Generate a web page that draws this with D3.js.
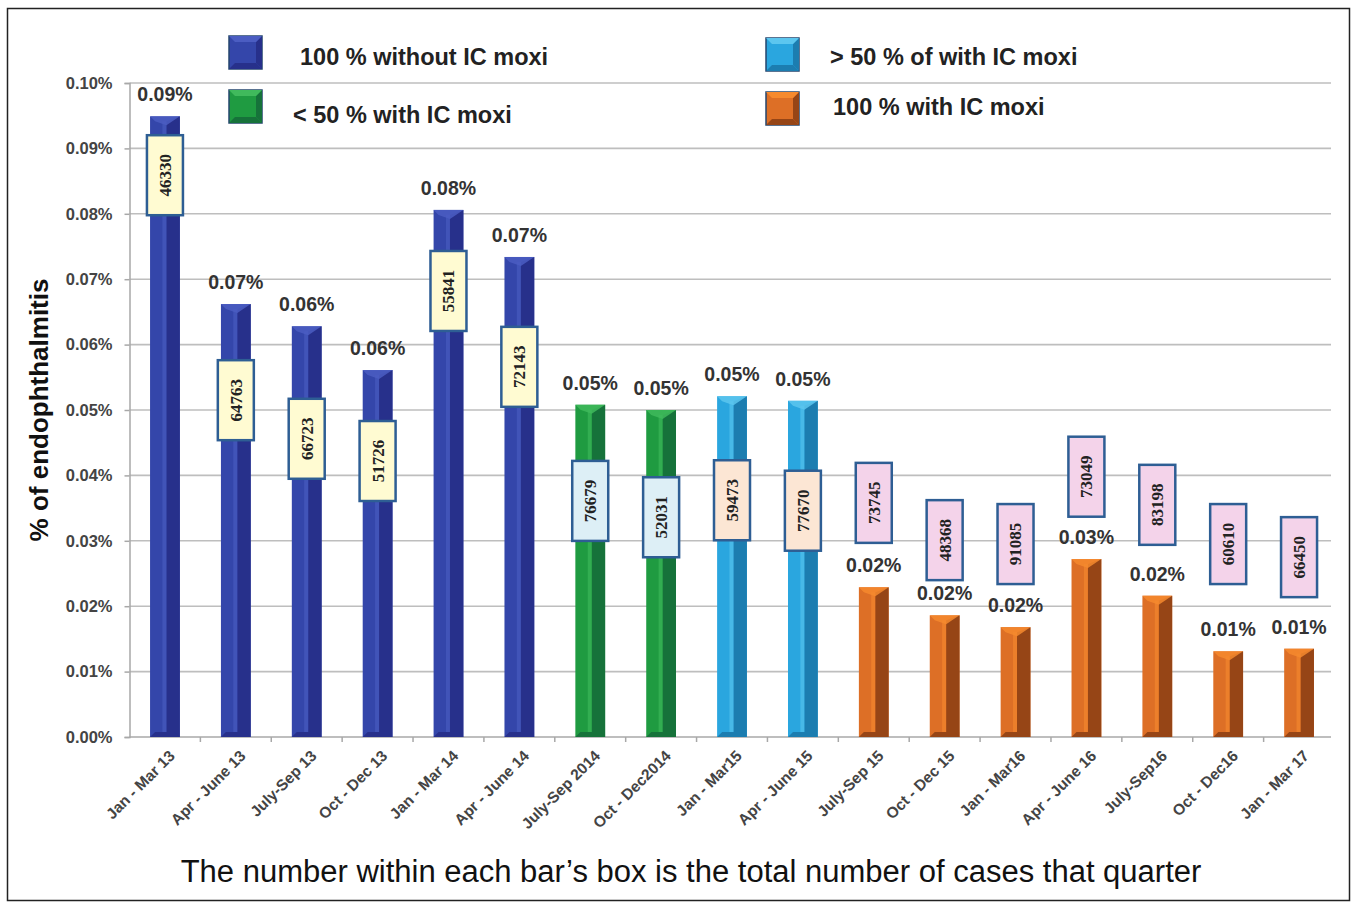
<!DOCTYPE html>
<html><head><meta charset="utf-8">
<script src="https://cdn.jsdelivr.net/npm/d3@7"></script>
<style>body{margin:0;background:#fff}svg{display:block}</style>
</head><body>
<svg id="c" width="1353" height="903"></svg>
<script>
const categories = ["Jan - Mar 13","Apr - June 13","July-Sep 13","Oct - Dec 13","Jan - Mar 14","Apr - June 14","July-Sep 2014","Oct - Dec2014","Jan - Mar15","Apr - June 15","July-Sep 15","Oct - Dec 15","Jan - Mar16","Apr - June 16","July-Sep16","Oct - Dec16","Jan - Mar 17"];
const values = [0.0949,0.0662,0.0628,0.0561,0.0806,0.0734,0.0508,0.0500,0.0521,0.0514,0.0229,0.0186,0.0168,0.0272,0.0216,0.0131,0.0135];
const cases = [46330,64763,66723,51726,55841,72143,76679,52031,59473,77670,73745,48368,91085,73049,83198,60610,66450];
const groups = [0,0,0,0,0,0,1,1,2,2,3,3,3,3,3,3,3];
const groupNames = ["100 % without IC moxi","< 50 % with IC moxi","> 50 % of with IC moxi","100 % with IC moxi"];
const boxAt = [0.0859,0.0515,0.0456,0.0422,0.0682,0.0566,0.0361,0.0336,0.0362,0.0346,0.0358,0.0301,0.0295,0.0398,0.0355,0.0295,0.0275];
const yTicks = [0,0.01,0.02,0.03,0.04,0.05,0.06,0.07,0.08,0.09,0.10];
const yTitle = "% of endophthalmitis";
const caption = "The number within each bar\u2019s box is the total number of cases that quarter";

const pal = [
  {mid:"#3446AA", dark:"#27308B", light:"#4B5DC2", box:"#FFFBD2"},
  {mid:"#1F9B41", dark:"#16723A", light:"#40BA5C", box:"#DDEFF6"},
  {mid:"#2AA6DF", dark:"#1C7DB0", light:"#5CC6EF", box:"#FCE6D4"},
  {mid:"#DD6F26", dark:"#964516", light:"#F68A2E", box:"#F4D3EA"}
];

const svg = d3.select("#c");
svg.append("rect").attr("width",1353).attr("height",903).attr("fill","#fff");
svg.append("rect").attr("x",7.5).attr("y",8.5).attr("width",1342).attr("height",892)
  .attr("fill","none").attr("stroke","#222").attr("stroke-width",1.5);

const x = d3.scaleBand().domain(categories).range([129.5,1334.5]).paddingInner(0.58).paddingOuter(0.29);
const y = d3.scaleLinear().domain([0,0.10]).range([737,83]);
const fmt = v => v.toFixed(2) + "%";
const gridRight = 1331;

// gridlines
svg.append("g").selectAll("line").data(yTicks.filter(t=>t>0)).join("line")
  .attr("x1",129.5).attr("x2",gridRight).attr("y1",d=>y(d)).attr("y2",d=>y(d))
  .attr("stroke","#BEBEBE").attr("stroke-width",1.6);

// y axis
const ya = svg.append("g").attr("transform","translate(129.5,0)")
  .call(d3.axisLeft(y).tickValues(yTicks).tickFormat(fmt).tickSize(5).tickPadding(12));
ya.select(".domain").attr("stroke","#A8A8A8").attr("stroke-width",1.5);
ya.selectAll(".tick line").attr("stroke","#A8A8A8").attr("stroke-width",1.5);
ya.selectAll("text").attr("font-family","Liberation Sans, Arial, sans-serif").attr("font-size",16.5)
  .attr("font-weight","bold").attr("fill","#444");

// x axis line and ticks at band boundaries
svg.append("line").attr("x1",129.5).attr("x2",gridRight).attr("y1",737).attr("y2",737)
  .attr("stroke","#A8A8A8").attr("stroke-width",1.6);
const step = x.step();
svg.append("g").selectAll("line").data(categories.slice(1)).join("line")
  .attr("x1",d=>x(d)+x.bandwidth()/2-step/2).attr("x2",d=>x(d)+x.bandwidth()/2-step/2)
  .attr("y1",737).attr("y2",742).attr("stroke","#A8A8A8").attr("stroke-width",1.5);

// x labels
svg.append("g").selectAll("text").data(categories).join("text")
  .attr("transform",d=>`translate(${x(d)+x.bandwidth()/2+7},${753}) rotate(-45)`)
  .attr("text-anchor","end").attr("dy","0.35em")
  .attr("font-family","Liberation Sans, Arial, sans-serif").attr("font-size",15.5)
  .attr("font-weight","bold").attr("fill","#444").text(d=>d);

// bars
function bar(g, bx, by, w, h, c){
  const b = 5;
  g.append("rect").attr("x",bx).attr("y",by).attr("width",w).attr("height",h).attr("fill",c.mid);
  const split = bx + w*0.55;
  g.append("polygon").attr("points",`${split},${by+b} ${bx+w},${by} ${bx+w},${by+h} ${split},${by+h-b}`).attr("fill",c.dark);
  g.append("rect").attr("x",split-4).attr("y",by+b).attr("width",4).attr("height",Math.max(0,h-2*b)).attr("fill",c.light).attr("opacity",0.6);
  g.append("polygon").attr("points",`${bx},${by} ${bx+w},${by} ${split},${by+b+4} ${bx+b},${by+b}`).attr("fill",c.light).attr("opacity",0.85);
  g.append("polygon").attr("points",`${bx},${by+h} ${bx+w},${by+h} ${bx+w-b},${by+h-b} ${bx+b},${by+h-b}`).attr("fill",c.dark);
}
const bars = svg.append("g");
categories.forEach((cat,i)=>{
  const g = bars.append("g");
  bar(g, x(cat), y(values[i]), x.bandwidth(), y(0)-y(values[i]), pal[groups[i]]);
});

// value labels
svg.append("g").selectAll("text").data(values).join("text")
  .attr("x",(d,i)=>x(categories[i])+x.bandwidth()/2).attr("y",d=>y(d)-15)
  .attr("text-anchor","middle").attr("font-family","Liberation Sans, Arial, sans-serif")
  .attr("font-size",19.5).attr("font-weight","bold").attr("fill","#333").text(fmt);

// case-count boxes
const bw = 36, bh = 80;
const boxes = svg.append("g").selectAll("g").data(cases).join("g")
  .attr("transform",(d,i)=>`translate(${x(categories[i])+x.bandwidth()/2},${y(boxAt[i])})`);
boxes.append("rect").attr("x",-bw/2).attr("y",-bh/2).attr("width",bw).attr("height",bh)
  .attr("fill",(d,i)=>pal[groups[i]].box).attr("stroke","#2E5E94").attr("stroke-width",2.5);
boxes.append("text").attr("transform","rotate(-90)").attr("text-anchor","middle").attr("dy","0.35em")
  .attr("font-family","Liberation Serif, Times New Roman, serif").attr("font-size",17)
  .attr("font-weight","bold").attr("fill","#222").text(d=>d);

// legend
const legPos = [
  {ix:229, iy:36, tx:300, ty:57},
  {ix:229, iy:90, tx:293, ty:115},
  {ix:766, iy:38, tx:830, ty:57},
  {ix:766, iy:92, tx:833, ty:107}
];
const leg = svg.append("g");
groupNames.forEach((name,i)=>{
  const p = legPos[i], c = pal[i], s = 33, b = 6;
  const g = leg.append("g");
  g.append("rect").attr("x",p.ix).attr("y",p.iy).attr("width",s).attr("height",s).attr("fill",c.mid)
    .attr("stroke","#24456E").attr("stroke-width",1.5);
  g.append("polygon").attr("points",`${p.ix+s},${p.iy} ${p.ix+s},${p.iy+s} ${p.ix+s-b},${p.iy+s-b} ${p.ix+s-b},${p.iy+b}`).attr("fill",c.dark);
  g.append("polygon").attr("points",`${p.ix},${p.iy+s} ${p.ix+s},${p.iy+s} ${p.ix+s-b},${p.iy+s-b} ${p.ix+b},${p.iy+s-b}`).attr("fill",c.dark);
  g.append("polygon").attr("points",`${p.ix},${p.iy} ${p.ix+s},${p.iy} ${p.ix+s-b},${p.iy+b} ${p.ix+b},${p.iy+b}`).attr("fill",c.light);
  g.append("text").attr("x",p.tx).attr("y",p.ty).attr("dy","0.35em")
    .attr("font-family","Liberation Sans, Arial, sans-serif").attr("font-size",23.5).attr("font-weight","bold")
    .attr("fill","#222").text(name);
});

// y title
svg.append("text").attr("transform","translate(48,410) rotate(-90)").attr("text-anchor","middle")
  .attr("font-family","Liberation Sans, Arial, sans-serif").attr("font-size",26).attr("font-weight","bold")
  .attr("fill","#111").text(yTitle);

// caption
svg.append("text").attr("x",691).attr("y",882).attr("text-anchor","middle")
  .attr("font-family","Liberation Sans, Arial, sans-serif").attr("font-size",31)
  .attr("fill","#111").text(caption);
</script>
</body></html>
